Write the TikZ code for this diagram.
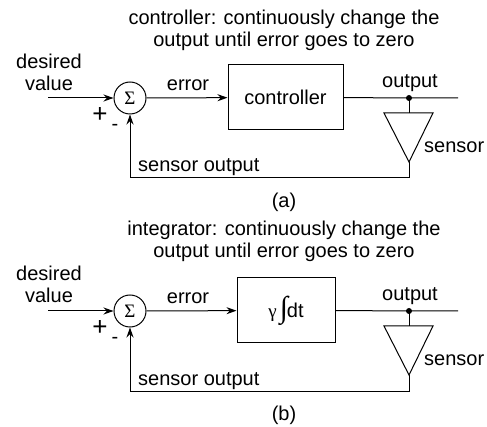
\documentclass[tikz,border=0pt]{standalone}
\usepackage{fontspec}
\setmainfont{Liberation Sans}
\newfontfamily\serifgreek{Liberation Serif}
\usetikzlibrary{arrows.meta}
\newcommand{\sigmasym}{{\serifgreek\fontsize{19}{19}\selectfont Σ}}
\newcommand{\integsym}{{\serifgreek\fontsize{19}{19}\selectfont γ}\kern3pt{\serifgreek\fontsize{30}{30}\selectfont ∫}\kern-1pt dt}
\begin{document}
\begin{tikzpicture}[x=1pt,y=-1pt,
  every node/.style={font=\fontsize{20}{22}\selectfont, inner sep=0pt},
  lbl/.style={anchor=base},
  lblw/.style={anchor=base west},
  sumnode/.style={draw,circle,minimum size=32pt,line width=1pt},
  blk/.style={draw,line width=1pt,minimum height=65pt},
  wire/.style={line width=1pt},
  arr/.style={wire,-{Stealth[length=10pt,width=7pt]}},
  sign/.style={font=\fontsize{26}{26}\selectfont},
]
\useasboundingbox (0,0) rectangle (487,427);

% ---------------- panel (a) ----------------
\node[lbl] (ta1) at (284,25) {controller: continuously change the};
\node[lbl] (ta2) at (284,47) {output until error goes to zero};
\node[lbl] (dva1) at (49,69) {desired};
\node[lbl] (dva2) at (49,91) {value};
\coordinate (ina) at (48,98);
\node[sumnode] (sa) at (130,98) {\sigmasym};
\node[sign] (pa) at (100,115) {+};
\node (ma) at (115,127) {-};
\node[blk, minimum width=115pt] (ca) at (285.5,97.5) {controller};
\node[lbl] (ea) at (188,91) {error};
\coordinate (outa) at (458,98);
\coordinate (ja) at (409,98);
\node[lbl] (oa) at (410,88) {output};
\coordinate (tla) at (384,113);
\coordinate (tra) at (433,113);
\coordinate (taa) at (409,162);
\coordinate (ba) at (409,178);
\node[lblw] (sna) at (424,153) {sensor};
\node[lblw] (soa) at (138,172) {sensor output};
\node[lbl] (capa) at (284,208) {(a)};
\draw[arr] (ina) -- (sa);
\draw[arr] (sa) -- (ca);
\draw[wire] (ca) -- (outa);
\fill (ja) circle (3pt);
\draw[wire] (ja) -- (ja |- tla);
\draw[wire,line join=miter] (tla) -- (tra) -- (taa) -- cycle;
\draw[arr] (taa) -- (ba) -| (sa);

% ---------------- panel (b) ----------------
\node[lbl] (tb1) at (284,236) {integrator: continuously change the};
\node[lbl] (tb2) at (284,258) {output until error goes to zero};
\node[lbl] (dvb1) at (49,281) {desired};
\node[lbl] (dvb2) at (49,303) {value};
\coordinate (inb) at (48,311);
\node[sumnode] (sb) at (130,311) {\sigmasym};
\node[sign] (pb) at (100,328) {+};
\node (mb) at (115,340) {-};
\node[blk, minimum width=98pt] (cb) at (286,310.5) {\integsym};
\node[lbl] (eb) at (188,304) {error};
\coordinate (outb) at (458,311);
\coordinate (jb) at (409,311);
\node[lbl] (ob) at (410,301) {output};
\coordinate (tlb) at (384,326);
\coordinate (trb) at (433,326);
\coordinate (tab) at (409,375);
\coordinate (bb) at (409,391);
\node[lblw] (snb) at (424,366) {sensor};
\node[lblw] (sob) at (138,385) {sensor output};
\node[lbl] (capb) at (284,420) {(b)};
\draw[arr] (inb) -- (sb);
\draw[arr] (sb) -- (cb);
\draw[wire] (cb) -- (outb);
\fill (jb) circle (3pt);
\draw[wire] (jb) -- (jb |- tlb);
\draw[wire,line join=miter] (tlb) -- (trb) -- (tab) -- cycle;
\draw[arr] (tab) -- (bb) -| (sb);
\end{tikzpicture}
\end{document}
